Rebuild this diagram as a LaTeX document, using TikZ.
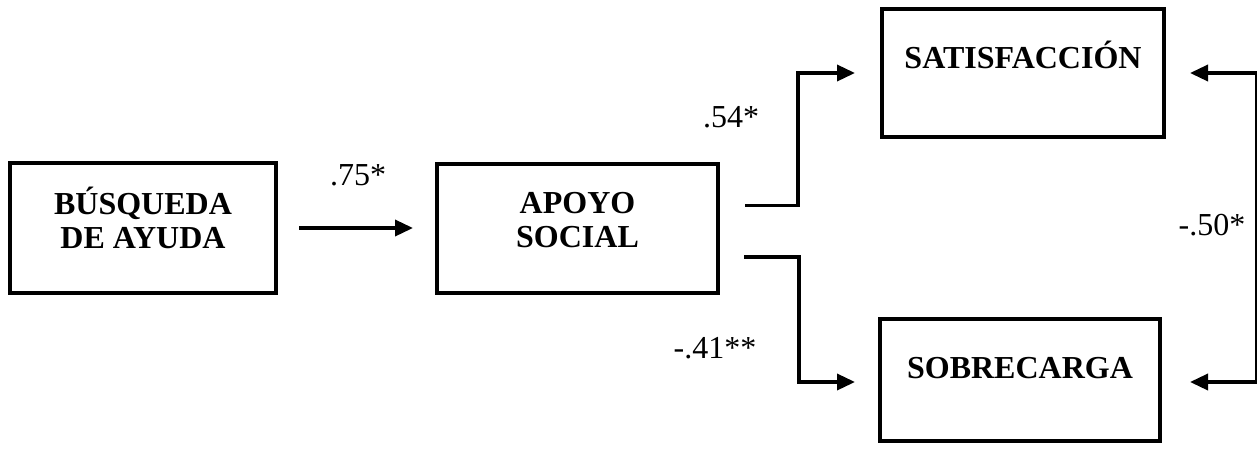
\documentclass[tikz,border=0pt]{standalone}
\usepackage{fontspec}
\setmainfont{Liberation Serif}
\usetikzlibrary{arrows.meta,calc}

\tikzset{
	caja/.style={draw, line width=4pt, inner sep=0pt, anchor=base,
		font=\bfseries\fontsize{32}{33.5}\selectfont},
	flecha/.style={line width=3.5pt, -{Triangle[length=18pt,width=16pt]}},
	doble/.style={line width=3.5pt, {Triangle[length=18pt,width=16pt]}-{Triangle[length=18pt,width=16pt]}},
	coef/.style={anchor=base, font=\fontsize{32}{33.5}\selectfont}
}

\begin{document}
\begin{tikzpicture}[x=1pt, y=-1pt]
		\useasboundingbox (0,0) rectangle (1257,448);
		
		%cajas
		\node[caja, minimum width=266pt, text height=85pt, text depth=45pt] (busqueda) at (143,248)
			{\begin{tabular}[b]{@{}c@{}}BÚSQUEDA\\DE AYUDA\end{tabular}};
		\node[caja, minimum width=281pt, text height=83pt, text depth=46pt] (apoyo) at (577.5,247)
			{\begin{tabular}[b]{@{}c@{}}APOYO\\SOCIAL\end{tabular}};
		\node[caja, minimum width=282pt, text height=59pt, text depth=69pt] (satis) at (1023,68) {SATISFACCIÓN};
		\node[caja, minimum width=280pt, text height=59pt, text depth=63pt] (sobre) at (1020,378) {SOBRECARGA};
		
		%flechas
		\draw[flecha, shorten <=21pt, shorten >=22pt] (busqueda.east) -- (busqueda.east -| apoyo.west);
		\draw[flecha] ($(apoyo.east)+(25,-23)$) -- ++(53,0) |- ($(satis.west)+(-25,0)$);
		\draw[flecha] ($(apoyo.east)+(24,28.5)$) -- ++(55,0) |- ($(sobre.west)+(-23,2)$);
		\draw[doble] ($(satis.east)+(24,0)$) -- ++(67,0) |- ($(sobre.east)+(28,2)$);
		
		%coeficientes
		\node[coef] (c75) at (358,185) {.75*};
		\node[coef] (c54) at (731,127) {.54*};
		\node[coef] (c41) at (715,358) {-.41**};
		\node[coef] (c50) at (1212,235) {-.50*};
\end{tikzpicture}
\end{document}
